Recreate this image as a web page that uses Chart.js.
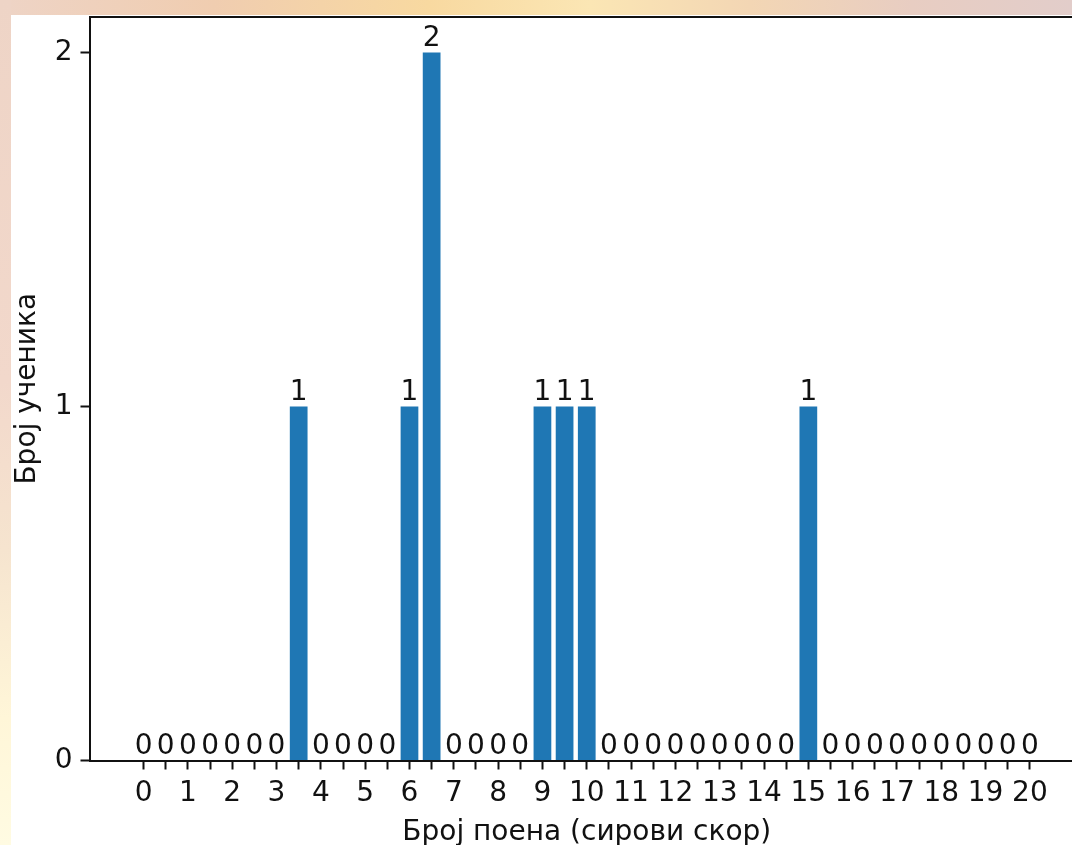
<!DOCTYPE html>
<html>
<head>
<meta charset="utf-8">
<script src="https://cdn.jsdelivr.net/npm/chart.js@4/dist/chart.umd.min.js"></script>
<style>
  html, body { margin: 0; padding: 0; width: 1072px; height: 845px; overflow: hidden; }
  body {
    position: relative;
    background: linear-gradient(90deg, #eed4c6 0%, #f0cdb0 20%, #f8d9a0 40%, #fbe6b4 55%, #f3d6b4 70%, #e8cdc2 85%, #e2cdca 100%);
  }
  #leftstrip {
    position: absolute; left: 0; top: 0; width: 11px; height: 845px;
    background: linear-gradient(180deg, #eed4c6 0%, #f2d8cb 45%, #f6e4cf 65%, #fff6d8 85%, #fffbe2 100%);
  }
  #wrap { position: absolute; left: 11px; top: 15px; width: 1100px; height: 835px; background: #fff; }
</style>
</head>
<body>
<div id="leftstrip"></div>
<div id="wrap"><canvas id="chartBar" width="1100" height="835"></canvas></div>
<script>
// ocene (sirovi skor) i broj ucenika
var scores = [0, 0.5, 1, 1.5, 2, 2.5, 3, 3.5, 4, 4.5, 5, 5.5, 6, 6.5, 7, 7.5, 8, 8.5, 9, 9.5,
              10, 10.5, 11, 11.5, 12, 12.5, 13, 13.5, 14, 14.5, 15, 15.5, 16, 16.5, 17, 17.5, 18, 18.5, 19, 19.5, 20];
var counts = [0, 0, 0, 0, 0, 0, 0, 1, 0, 0, 0, 0, 1, 2, 0, 0, 0, 0, 1, 1,
              1, 0, 0, 0, 0, 0, 0, 0, 0, 0, 1, 0, 0, 0, 0, 0, 0, 0, 0, 0, 0];
var yTicks = [0, 1, 2];

var fontSize = 28;
Chart.defaults.font.family = "'DejaVu Sans', sans-serif";
Chart.defaults.font.size = fontSize;
Chart.defaults.color = '#111';

// okvir (gornja i desna ivica)
var framePlugin = {
  id: 'frame',
  afterDraw: function (chart) {
    var a = chart.chartArea, c = chart.ctx;
    c.save();
    c.strokeStyle = '#111';
    c.lineWidth = 2;
    c.beginPath();
    c.moveTo(a.left, a.top);
    c.lineTo(a.right, a.top);
    c.lineTo(a.right, a.bottom);
    c.stroke();
    c.restore();
  }
};

// brojevi iznad stubova
var labelPlugin = {
  id: 'barLabels',
  afterDatasetsDraw: function (chart) {
    var c = chart.ctx;
    var meta = chart.getDatasetMeta(0);
    c.save();
    c.font = fontSize + "px 'DejaVu Sans'";
    c.fillStyle = '#111';
    c.textAlign = 'center';
    c.textBaseline = 'bottom';
    meta.data.forEach(function (bar, i) {
      c.fillText(String(counts[i]), bar.x, bar.y);
    });
    c.restore();
  }
};

var ctxBar = document.getElementById('chartBar').getContext('2d');
var configBar = {
  type: 'bar',
  data: {
    datasets: [{
      data: scores.map(function (s, i) { return { x: s, y: counts[i] }; }),
      backgroundColor: '#1f77b4',
      borderWidth: 0,
      barPercentage: 0.8,
      categoryPercentage: 1.0
    }]
  },
  options: {
    responsive: false,
    animation: false,
    devicePixelRatio: 1,
    layout: { padding: { top: 2, right: 27, left: 0, bottom: 0 } },
    plugins: { legend: { display: false }, tooltip: { enabled: false } },
    scales: {
      x: {
        type: 'linear',
        offset: false,
        min: -1.22,
        max: 21.22,
        afterBuildTicks: function (scale) {
          scale.ticks = scores.map(function (v) { return { value: v }; });
        },
        afterFit: function (scale) {
          scale.height = 89.5;
          scale.paddingLeft = 0; scale.paddingRight = 0;
        },
        ticks: {
          autoSkip: false,
          maxRotation: 0,
          padding: 7,
          callback: function (v) { return Number.isInteger(v) ? String(v) : ''; }
        },
        grid: { offset: false, drawOnChartArea: false, drawTicks: true, tickLength: 9, tickColor: '#111', tickWidth: 2 },
        border: { display: true, color: '#111', width: 2 },
        title: { display: true, text: 'Број поена (сирови скор)', padding: { top: 0, bottom: 0 } }
      },
      y: {
        min: 0,
        max: 2.1,
        afterBuildTicks: function (scale) {
          scale.ticks = yTicks.map(function (v) { return { value: v }; });
        },
        afterFit: function (scale) {
          scale.width = 78.5;
          scale.paddingTop = 0; scale.paddingBottom = 0;
        },
        ticks: { padding: 8 },
        grid: { drawOnChartArea: false, drawTicks: true, tickLength: 9, tickColor: '#111', tickWidth: 2 },
        border: { display: true, color: '#111', width: 2 },
        title: { display: true, text: 'Број ученика', padding: { top: 0, bottom: 0 } }
      }
    }
  },
  plugins: [framePlugin, labelPlugin]
};
var chartBar = new Chart(ctxBar, configBar);
</script>
</body>
</html>
